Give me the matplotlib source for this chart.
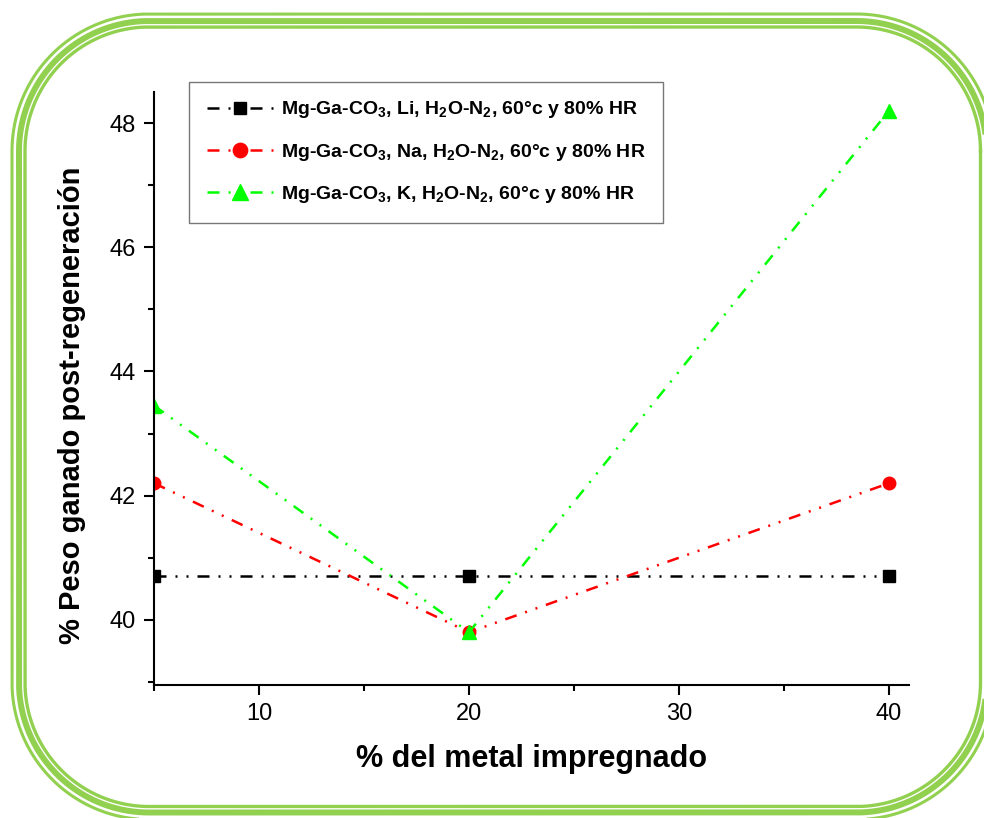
import numpy as np
import matplotlib.pyplot as plt

plt.rcParams['font.family'] = ['Liberation Sans', 'DejaVu Sans']
plt.rcParams['mathtext.fontset'] = 'custom'
plt.rcParams['mathtext.bf'] = 'Liberation Sans:bold'
plt.rcParams['mathtext.rm'] = 'Liberation Sans:bold'
plt.rcParams['mathtext.default'] = 'bf'

# datos
metal = [5, 20, 40]
peso_li = [40.7, 40.7, 40.7]
peso_na = [42.2, 39.8, 42.2]
peso_k = [43.45, 39.8, 48.2]
etiquetas = [
    'Mg-Ga-CO$_3$, Li, H$_2$O-N$_2$, 60°c y 80% HR',
    'Mg-Ga-CO$_3$, Na, H$_2$O-N$_2$, 60°c y 80% HR',
    'Mg-Ga-CO$_3$, K, H$_2$O-N$_2$, 60°c y 80% HR',
]

W, H = 984, 818


def rect_redondeado(x0, y0, x1, y1, r, n=40):
    # esquinas como arcos (sin curvas Bezier)
    esquinas = [(x1 - r, y1 - r, 0), (x0 + r, y1 - r, 90),
                (x0 + r, y0 + r, 180), (x1 - r, y0 + r, 270)]
    xs, ys = [], []
    for cx, cy, a0 in esquinas:
        t = np.radians(np.linspace(a0, a0 + 90, n))
        xs.extend(cx + r * np.cos(t))
        ys.extend(cy + r * np.sin(t))
    xs.append(xs[0])
    ys.append(ys[0])
    return xs, ys


fig = plt.figure(figsize=(W / 100, H / 100), dpi=100)

# marco verde redondeado (3 lineas), en pixeles
fondo = fig.add_axes([0, 0, 1, 1])
fondo.set_xlim(0, W)
fondo.set_ylim(0, H)
fondo.axis('off')
verde = '#92D050'
for off, lw in [(7, 2.2), (0, 4.3), (-6, 2.4)]:
    xs, ys = rect_redondeado(19 - off, H - 812.5 - off, 986.5 + off,
                             H - 21 + off, 130 + off)
    fondo.plot(xs, ys, color=verde, lw=lw, clip_on=False)

ax = fig.add_axes([154 / W, 1 - 685 / H, (909 - 154) / W, (685 - 92) / H])
ax.patch.set_alpha(0)

estilo = (0, (4.8, 3.6, 0.8, 3.6, 0.8, 3.6))
ax.plot(metal, peso_li, color='black', lw=1.8, linestyle=estilo,
        marker='s', markersize=8, label=etiquetas[0])
ax.plot(metal, peso_na, color='red', lw=1.8, linestyle=estilo,
        marker='o', markersize=9, label=etiquetas[1])
ax.plot(metal, peso_k, color='#00FF00', lw=1.8, linestyle=estilo,
        marker='^', markersize=10, label=etiquetas[2])

ax.set_xlim(5, 40.95)
ax.set_ylim(38.95, 48.5)
ax.set_xticks([10, 20, 30, 40])
ax.set_xticks([5, 15, 25, 35], minor=True)
ax.set_yticks([40, 42, 44, 46, 48])
ax.set_yticks([39, 41, 43, 45, 47], minor=True)

for s in ['top', 'right']:
    ax.spines[s].set_visible(False)
for s in ['left', 'bottom']:
    ax.spines[s].set_linewidth(1.5)

ax.tick_params(which='major', direction='out', length=7, width=1.5,
               labelsize=17, pad=6)
ax.tick_params(which='minor', direction='out', length=4, width=1.5)

ax.set_xlabel('% del metal impregnado', fontsize=22, fontweight='bold',
              labelpad=14)
ax.set_ylabel('% Peso ganado post-regeneración', fontsize=21,
              fontweight='bold', labelpad=17, y=0.472)

leg = ax.legend(loc='upper left', bbox_to_anchor=(35 / 755, 1 + 10 / 593),
                prop={'weight': 'bold', 'size': 14}, frameon=True,
                fancybox=False, edgecolor='#555555', handlelength=3.4,
                labelspacing=1.1, borderpad=0.9, handletextpad=0.45,
                borderaxespad=0, markerscale=1.15)
leg.get_frame().set_linewidth(1.0)

fig.savefig('out.png', dpi=100)
